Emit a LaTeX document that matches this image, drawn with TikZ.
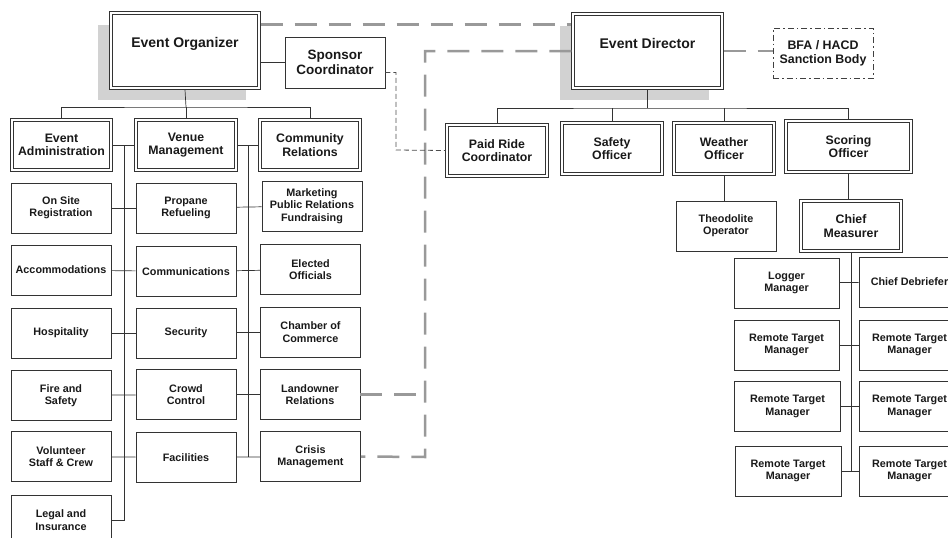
\documentclass[tikz,border=0pt]{standalone}
\usepackage{fontspec}
\setmainfont{Liberation Sans}
\usepackage{tikz}

\tikzset{
	box/.style={draw=black!80, fill=white, line width=0.7pt, rectangle, inner sep=0pt, align=center, minimum width=100pt, minimum height=50pt, text=black!90, font=\bfseries\fontsize{10.8}{12.3}\selectfont},
	dbox/.style={box, line width=3.4pt, postaction={draw=white, line width=1.4pt}, font=\bfseries\fontsize{12.3}{13.5}\selectfont},
	topbox/.style={dbox, font=\bfseries\fontsize{14}{16}\selectfont},
	sponsorbox/.style={box, font=\bfseries\fontsize{13.5}{15}\selectfont},
	sanction/.style={box, draw=black!75, line width=1pt, dash pattern=on 6pt off 3pt on 1.5pt off 3pt, font=\bfseries\fontsize{12.4}{14}\selectfont},
	link/.style={draw=black!80, line width=0.7pt},
	bigdash/.style={draw=black!40, line width=2.5pt, dash pattern=on 22pt off 12pt},
	smalldash/.style={draw=black!70, line width=0.8pt, dash pattern=on 5pt off 3pt}
}

\begin{document}
\begin{tikzpicture}[x=1pt,y=-1pt]
		\useasboundingbox (0,0) rectangle (948,538);
		\clip (0,0) rectangle (948,538);
		
		% shadows behind the two heads
		\fill[gray!35] (98,25) rectangle (246,100);
		\fill[gray!35] (560,26) rectangle (709,100);
		
		% organizer side
		\node[topbox, minimum width=148pt, minimum height=75pt] (eo) at (185,50.5) {Event Organizer\\ \mbox{}};
		\node[sponsorbox, minimum height=51pt] (sponsor) at (335,62.5) {Sponsor\\Coordinator};
		
		\node[dbox, minimum width=99pt] (admin) at (61.5,145) {Event\\Administration};
		\node[dbox] (venue) at (186,145) {Venue\\Management};
		\node[dbox] (comm) at (310,145) {Community\\Relations};
		
		\node[box] (onsite) at (61,208) {On Site\\Registration};
		\node[box] (propane) at (186,208) {Propane\\Refueling};
		\node[box] (marketing) at (312,206) {Marketing\\Public Relations\\Fundraising};
		
		\node[box] (accom) at (61,270) {Accommodations};
		\node[box] (commun) at (186,271.5) {Communications};
		\node[box] (elected) at (310.5,269.5) {Elected\\Officials};
		
		\node[box] (hosp) at (61,333) {Hospitality};
		\node[box] (security) at (186,333) {Security};
		\node[box] (chamber) at (310.5,332) {Chamber of\\Commerce};
		
		\node[box] (fire) at (61,395.5) {Fire and\\Safety};
		\node[box] (crowd) at (186,394.5) {Crowd\\Control};
		\node[box] (landowner) at (310,394.5) {Landowner\\Relations};
		
		\node[box] (volunteer) at (61,456.5) {Volunteer\\Staff \& Crew};
		\node[box] (facilities) at (186,457.5) {Facilities};
		\node[box] (crisis) at (310.5,456.5) {Crisis\\Management};
		
		\node[box] (legal) at (61,520) {Legal and\\Insurance};
		
		% director side
		\node[topbox, minimum width=149pt, minimum height=74pt] (ed) at (647.5,51) {Event Director\\ \mbox{}};
		\node[sanction] (bfa) at (823,53) {BFA / HACD\\Sanction Body};
		
		\node[dbox, minimum height=51pt] (paid) at (497,150.5) {Paid Ride\\Coordinator};
		\node[dbox, minimum height=51pt] (safety) at (612,148.5) {Safety\\Officer};
		\node[dbox, minimum height=51pt] (weather) at (724,148.5) {Weather\\Officer};
		\node[dbox, minimum width=125pt, minimum height=51pt] (scoring) at (848.5,146.5) {Scoring\\Officer};
		
		\node[box] (theo) at (726,226) {Theodolite\\Operator};
		\node[dbox] (chief) at (851,226) {Chief\\Measurer};
		
		\node[box, minimum width=105pt] (logger) at (786.5,283) {Logger\\Manager};
		\node[box, minimum width=101pt] (debrief) at (909.5,282) {Chief Debriefer};
		\node[box, minimum width=105pt] (rt1l) at (786.5,345) {Remote Target\\Manager};
		\node[box, minimum width=101pt] (rt1r) at (909.5,345) {Remote Target\\Manager};
		\node[box, minimum width=106pt] (rt2l) at (787.5,406.5) {Remote Target\\Manager};
		\node[box, minimum width=101pt] (rt2r) at (909.5,406.5) {Remote Target\\Manager};
		\node[box, minimum width=106pt] (rt3l) at (788,471) {Remote Target\\Manager};
		\node[box, minimum width=101pt] (rt3r) at (909.5,471) {Remote Target\\Manager};
		
		% organizer tree
		\coordinate (eobus) at (186,107);
		\draw[link] (eo.south) -- (eobus);
		\draw[link] (admin.north) |- (eobus) -| (comm.north);
		\draw[link] (eobus) -- (venue.north);
		\draw[link] (admin) -- (venue);
		\draw[link] (venue) -- (comm);
		\coordinate (adminbus) at (124,145);
		\draw[link] (adminbus) |- (legal.east);
		\coordinate (venuebus) at (248,145);
		\draw[link] (venuebus) -- (venuebus |- crisis.west);
		\draw[link] (onsite) -- (propane);
		\draw[link] (propane) -- (marketing);
		\draw[link] (accom) -- (commun);
		\draw[link] (commun) -- (elected);
		\draw[link] (hosp) -- (security);
		\draw[link] (security) -- (chamber);
		\draw[link] (fire) -- (crowd);
		\draw[link] (crowd) -- (landowner);
		\draw[link] (volunteer) -- (facilities);
		\draw[link] (facilities) -- (crisis);
		\draw[link] (eo.east |- sponsor.west) -- (sponsor.west);
		
		% director tree
		\coordinate (edbus) at (647.5,108);
		\draw[link] (ed.south) -- (edbus);
		\draw[link] (paid.north) |- (edbus) -| (scoring.north);
		\draw[link] (safety.north) -- (safety.north |- edbus);
		\draw[link] (weather.north) -- (weather.north |- edbus);
		\draw[link] (weather.south) -- (weather.south |- theo.north);
		\draw[link] (scoring.south) -- (scoring.south |- chief.north);
		\draw[link] (chief.south) -- (chief.south |- rt3l.east);
		\draw[link] (logger) -- (debrief);
		\draw[link] (rt1l) -- (rt1r);
		\draw[link] (rt2l) -- (rt2r);
		\draw[link] (rt3l) -- (rt3r);
		
		% dashed links
		\draw[bigdash] ([shift={(0,13)}]eo.north east) -- ([shift={(0,12)}]ed.north west);
		\coordinate (edturn) at (425,457);
		\draw[bigdash] (ed.west) -| (edturn) -- (crisis.east);
		\draw[bigdash] (landowner.east) -- (landowner.east -| edturn);
		\draw[bigdash] (ed.east) -- (ed.east -| bfa.west);
		\coordinate (spbend) at (396,150);
		\draw[smalldash] ([shift={(0,10)}]sponsor.east) -| (spbend) -- (paid.west);
	\end{tikzpicture}
\end{document}
